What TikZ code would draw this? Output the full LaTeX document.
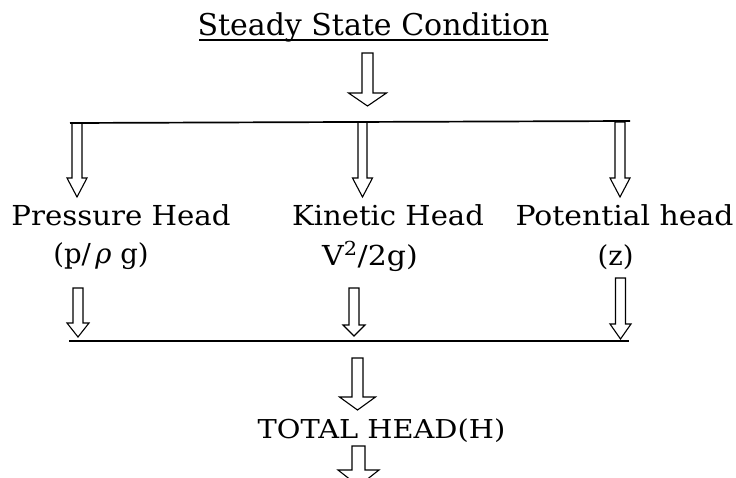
\documentclass[tikz,border=0pt]{standalone}
\usepackage{fontspec}
\setmainfont{DejaVu Serif}
\usetikzlibrary{calc}
\newcommand{\blockarrow}[5]{%
  \draw[hollow] let \p1=(#1), \p2=(#2) in
    (\x2-#4pt,\y1) -- (\x2+#4pt,\y1) -- (\x2+#4pt,\y2+#3pt) -- (\x2+#5pt,\y2+#3pt)
    -- (\x2,\y2) -- (\x2-#5pt,\y2+#3pt) -- (\x2-#4pt,\y2+#3pt) -- cycle;}
\begin{document}
\begin{tikzpicture}[x=1pt,y=-1pt,
  hollow/.style={draw=black, line width=1.1pt, fill=white, line join=miter},
  rule/.style={line width=1.7pt},
  lab/.style={inner sep=0pt, anchor=base, font=\fontsize{27.5}{32}\selectfont},
  ]
\useasboundingbox (0,0) rectangle (736,477);
\clip (0,0) rectangle (736,477);

% texts
\node[lab, font=\fontsize{30}{36}\selectfont] (title) at (373.5,35) {Steady State Condition};
\node[lab] (ph) at (121,225) {\scalebox{1.063}[1]{Pressure Head}};
\node[lab] (kh) at (388,225) {\scalebox{1.056}[1]{Kinetic Head}};
\node[lab] (poth) at (624.5,225) {\scalebox{1.086}[1]{Potential head}};
\node[lab] (pv) at (101,263) {(p/\,\textit{ρ} g)};
\node[lab] (kv) at (370,265) {\scalebox{1.09}[1]{V\textsuperscript{2}/2g)}};
\node[lab] (zv) at (615.5,265) {(z)};
\node[lab, font=\fontsize{26}{30}\selectfont] (tot) at (381.5,438) {\scalebox{1.11}[1]{TOTAL HEAD(H)}};

% underline of the title
\coordinate (ul) at (199,40);
\coordinate (ur) at (548,40);
\draw[rule] (ul) -- (ur);

% line ends
\coordinate (tl) at (70,123);
\coordinate (tr) at (630,121);
\coordinate (bl) at (69,341);
\coordinate (br) at (629,341);

% arrow ends
\coordinate (a0t) at (367.5,53);  \coordinate (a0h) at (367.5,106);
\coordinate (a1t) at (77,123);    \coordinate (a1h) at (77,197);
\coordinate (a2t) at (362.5,122); \coordinate (a2h) at (362.5,197);
\coordinate (a3t) at (620,122);   \coordinate (a3h) at (620,197);
\coordinate (b1t) at (78,288);    \coordinate (b1h) at (78,337);
\coordinate (b2t) at (354,288);   \coordinate (b2h) at (354,336);
\coordinate (b3t) at (620.5,278); \coordinate (b3h) at (620.5,339);
\coordinate (c1t) at (357.5,358); \coordinate (c1h) at (357.5,410);
\coordinate (c2t) at (358.5,446); \coordinate (c2h) at (358.5,486);

\blockarrow{a0t}{a0h}{13}{5.5}{19}
\blockarrow{a1t}{a1h}{19}{5}{10}
\blockarrow{a2t}{a2h}{19}{4.5}{10}
\blockarrow{a3t}{a3h}{19}{5}{10}
\blockarrow{b1t}{b1h}{14}{5}{11}
\blockarrow{b2t}{b2h}{11}{5}{11}
\blockarrow{b3t}{b3h}{15}{5}{10.5}
\blockarrow{c1t}{c1h}{13}{5.5}{18}
\blockarrow{c2t}{c2h}{16}{6.5}{20.5}

\draw[rule] (tl) -- (tr);
\draw[rule] (bl) -- (br);
\end{tikzpicture}
\end{document}
